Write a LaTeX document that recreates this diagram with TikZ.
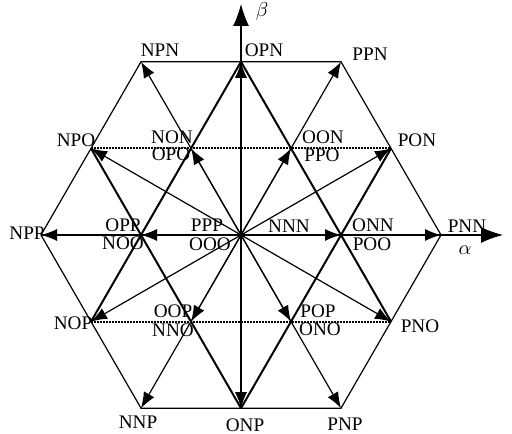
\documentclass[tikz,border=0pt]{standalone}
\usepackage{fontspec}
\setmainfont{Liberation Serif}
\usetikzlibrary{arrows.meta, calc}
\tikzset{
  >={Latex[length=8pt,width=6pt]},
  % Vettori e linee
  vec/.style={->, line width=.6pt},
  hexline/.style={line width=.6pt, line join=miter},
  tri/.style={line width=1pt},
  tri dotted/.style={line width=1.1pt, dash pattern=on 1pt off .5pt},
  axis/.style={-{Latex[length=11pt,width=8pt]}, line width=.6pt},
  lab/.style={inner sep=0pt, font=\fontsize{9.6}{11}\selectfont}
}

\begin{document}
\begin{tikzpicture}[x=.5pt, y=.5pt]
    \useasboundingbox (0,0) rectangle (512,433);
    \coordinate (O) at (241,198);
    % vettori grandi
    \coordinate (L1) at ($(O)+(0:200)$);
    \coordinate (L2) at ($(O)+(60:200)$);
    \coordinate (L3) at ($(O)+(120:200)$);
    \coordinate (L4) at ($(O)+(180:200)$);
    \coordinate (L5) at ($(O)+(240:200)$);
    \coordinate (L6) at ($(O)+(300:200)$);
    % vettori medi
    \coordinate (M1) at ($(O)+(30:173.2)$);
    \coordinate (M2) at ($(O)+(90:173.2)$);
    \coordinate (M3) at ($(O)+(150:173.2)$);
    \coordinate (M4) at ($(O)+(210:173.2)$);
    \coordinate (M5) at ($(O)+(270:173.2)$);
    \coordinate (M6) at ($(O)+(330:173.2)$);
    % vettori piccoli
    \coordinate (S1) at ($(O)+(0:100)$);
    \coordinate (S2) at ($(O)+(60:100)$);
    \coordinate (S3) at ($(O)+(120:100)$);
    \coordinate (S4) at ($(O)+(180:100)$);
    \coordinate (S5) at ($(O)+(240:100)$);
    \coordinate (S6) at ($(O)+(300:100)$);
    \coordinate (AlphaEnd) at (503,198);
    \coordinate (BetaEnd)  at (241,429);

    \draw[hexline] (L1) -- (L2) -- (L3) -- (L4) -- (L5) -- (L6) -- cycle;
    \draw[tri] (M2) -- (M4);
    \draw[tri] (M2) -- (M6);
    \draw[tri] (M3) -- (M5);
    \draw[tri] (M1) -- (M5);
    \draw[tri dotted] (M4) -- (M6);
    \draw[tri dotted] (M3) -- (M1);
    \draw[axis] (L4) -- (AlphaEnd);
    \draw[axis] (M5) -- (BetaEnd);

    \draw[vec] (O) -- (L1);
    \draw[vec] (O) -- (L2);
    \draw[vec] (O) -- (L3);
    \draw[vec] (O) -- (L4);
    \draw[vec] (O) -- (L5);
    \draw[vec] (O) -- (L6);
    \draw[vec] (O) -- (M1);
    \draw[vec] (O) -- (M2);
    \draw[vec] (O) -- (M3);
    \draw[vec] (O) -- (M4);
    \draw[vec] (O) -- (M5);
    \draw[vec] (O) -- (M6);
    \draw[vec] (O) -- (S1);
    \draw[vec] (O) -- (S2);
    \draw[vec] (O) -- (S3);
    \draw[vec] (O) -- (S4);
    \draw[vec] (O) -- (S5);
    \draw[vec] (O) -- (S6);

    \node[lab] (LabelNPN) at (160,383) {NPN};
    \node[lab] (LabelOPN) at (264,383) {OPN};
    \node[lab] (LabelPPN) at (370,379) {PPN};
    \node[lab] (LabelNPO) at (76,293)  {NPO};
    \node[lab] (LabelNON) at (172,296) {NON};
    \node[lab] (LabelOPO) at (171,279) {OPO};
    \node[lab] (LabelOON) at (323,296) {OON};
    \node[lab] (LabelPPO) at (322,278) {PPO};
    \node[lab] (LabelPON) at (417,293) {PON};
    \node[lab] (LabelNPP) at (27,200)  {NPP};
    \node[lab] (LabelOPP) at (123,208) {OPP};
    \node[lab] (LabelNOO) at (123,190) {NOO};
    \node[lab] (LabelPPP) at (207,208) {PPP};
    \node[lab] (LabelOOO) at (210,189) {OOO};
    \node[lab] (LabelNNN) at (289,207) {NNN};
    \node[lab] (LabelONN) at (373,208) {ONN};
    \node[lab] (LabelPOO) at (372,189) {POO};
    \node[lab] (LabelPNN) at (467,207) {PNN};
    \node[lab] (LabelAlpha) at (465,183) {$\alpha$};
    \node[lab] (LabelBeta)  at (262,421) {$\beta$};
    \node[lab] (LabelNOP) at (73,110)  {NOP};
    \node[lab] (LabelOOP) at (173,122) {OOP};
    \node[lab] (LabelNNO) at (173,103) {NNO};
    \node[lab] (LabelPOP) at (318,122) {POP};
    \node[lab] (LabelONO) at (320,104) {ONO};
    \node[lab] (LabelPNO) at (420,107) {PNO};
    \node[lab] (LabelNNP) at (138,11)  {NNP};
    \node[lab] (LabelONP) at (245,8)   {ONP};
    \node[lab] (LabelPNP) at (345,9)   {PNP};
\end{tikzpicture}
\end{document}
